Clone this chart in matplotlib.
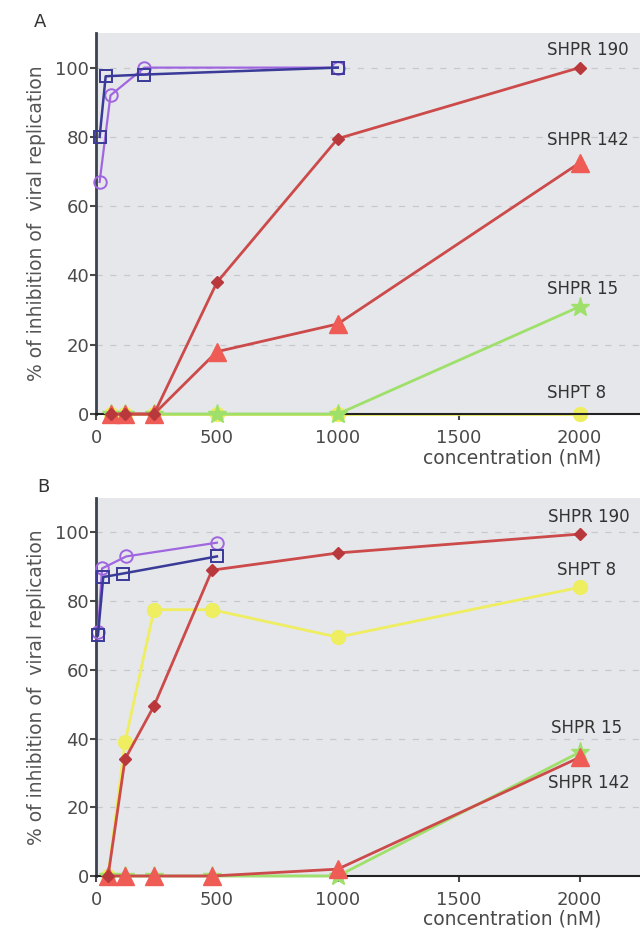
import numpy as np
import matplotlib.pyplot as plt

# Panel A data
a_blue_x = [15, 40, 200, 1000]
a_blue_y = [80, 97.5, 98, 100]
a_purple_x = [15, 60, 200, 1000]
a_purple_y = [67, 92, 100, 100]
a_conc = [60, 120, 240, 500, 1000, 2000]
a_shpr190 = [0, 0, 0, 38, 79.5, 100]
a_shpr142 = [0, 0, 0, 18, 26, 72.5]
a_shpr15 = [0, 0, 0, 0, 0, 31]
a_shpt8 = [0, 0, 0, 0, 0, 0]

# Panel B data
b_blue_x = [8, 30, 110, 500]
b_blue_y = [70, 87, 88, 93]
b_purple_x = [8, 25, 125, 500]
b_purple_y = [71, 89.5, 93, 97]
b_conc = [50, 120, 240, 480, 1000, 2000]
b_shpr190 = [0, 34, 49.5, 89, 94, 99.5]
b_shpr142 = [0, 0, 0, 0, 2, 34.5]
b_shpr15 = [0, 0, 0, 0, 0, 36]
b_shpt8 = [0, 39, 77.5, 77.5, 69.5, 84]

RED_LINE = "#cc4a4a"
RED_DIAMOND = "#b8383c"
RED_TRI = "#ef5c55"
GREEN = "#9fe06a"
YELLOW = "#eeee60"
BLUE = "#3a3a98"
PURPLE = "#a066e0"
TXT = "#4a4a4a"

fig = plt.figure(figsize=(6.4, 9.34), dpi=100)


def draw_panel(ax, conc, s190, s142, s15, s8, bx, by, px, py, labels):
    ax.set_facecolor("#e5e7eb")
    for y in [20, 40, 60, 80, 100]:
        ax.axhline(y, color="#c6c8cc", lw=0.9, ls=(0, (5, 6)), zorder=0)

    ax.plot(conc, s8, color=YELLOW, lw=2, marker="o", ms=10, mfc=YELLOW,
            mec=YELLOW, zorder=2, clip_on=False)
    ax.plot(conc, s15, color=GREEN, lw=2, marker="*", ms=14, mfc=GREEN,
            mec=GREEN, zorder=3, clip_on=False)
    ax.plot(conc, s142, color=RED_LINE, lw=2, marker="^", ms=13, mfc=RED_TRI,
            mec=RED_TRI, zorder=4, clip_on=False)
    ax.plot(conc, s190, color=RED_LINE, lw=2, marker="D", ms=6,
            mfc=RED_DIAMOND, mec=RED_DIAMOND, zorder=5, clip_on=False)
    ax.plot(px, py, color=PURPLE, lw=1.6, marker="o", ms=9, mfc="none",
            mec=PURPLE, mew=1.4, zorder=6, clip_on=False)
    ax.plot(bx, by, color=BLUE, lw=1.8, marker="s", ms=8, mfc="none",
            mec=BLUE, mew=1.4, zorder=7, clip_on=False)

    for text, x, y in labels:
        ax.text(x, y, text, ha="center", va="center", fontsize=12,
                color="#333333")

    ax.set_xlim(0, 2250)
    ax.set_ylim(0, 110)
    ax.set_xticks([0, 500, 1000, 1500, 2000])
    ax.set_yticks([0, 20, 40, 60, 80, 100])
    ax.tick_params(axis="both", labelsize=13, colors=TXT, direction="out",
                   length=4, width=1.5)
    ax.tick_params(axis="x", pad=7)
    ax.tick_params(axis="y", pad=1)
    for side in ["top", "right"]:
        ax.spines[side].set_visible(False)
    ax.spines["left"].set_color("#3c4250")
    ax.spines["left"].set_linewidth(2)
    ax.spines["bottom"].set_color("#222222")
    ax.spines["bottom"].set_linewidth(1.5)
    ax.set_ylabel("% of inhibition of  viral replication", fontsize=13.5,
                  color="#555555", va="center")
    ax.yaxis.set_label_coords(-0.11, 0.5)
    ax.set_xlabel("concentration (nM)", fontsize=13.5, color=TXT, va="center")
    ax.xaxis.set_label_coords(0.765, -0.115)


ax_a = fig.add_axes([0.15, 0.5567, 0.85, 0.408])
draw_panel(ax_a, a_conc, a_shpr190, a_shpr142, a_shpr15, a_shpt8,
           a_blue_x, a_blue_y, a_purple_x, a_purple_y,
           [("SHPR 190", 2035, 105), ("SHPR 142", 2035, 79),
            ("SHPR 15", 2012, 36), ("SHPT 8", 1988, 6)])

ax_b = fig.add_axes([0.15, 0.0621, 0.85, 0.4047])
draw_panel(ax_b, b_conc, b_shpr190, b_shpr142, b_shpr15, b_shpt8,
           b_blue_x, b_blue_y, b_purple_x, b_purple_y,
           [("SHPR 190", 2040, 104.5), ("SHPT 8", 2030, 89),
            ("SHPR 15", 2030, 43), ("SHPR 142", 2040, 27)])

fig.text(40 / 640, 1 - 22 / 934, "A", fontsize=13, color="#333333",
         ha="center", va="center")
fig.text(43 / 640, 1 - 487 / 934, "B", fontsize=13, color="#333333",
         ha="center", va="center")

fig.savefig("out.png", dpi=100, facecolor="white")
